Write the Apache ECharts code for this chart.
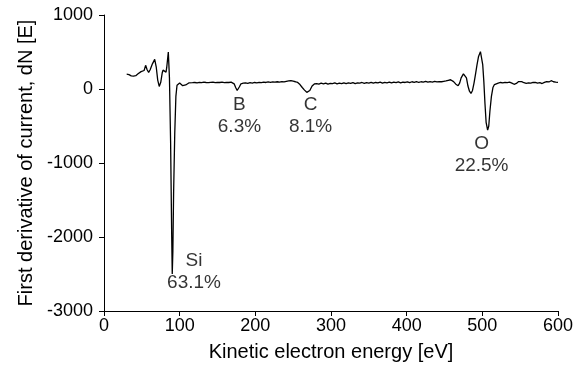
<!DOCTYPE html>
<html>
<head>
<meta charset="utf-8">
<script src="https://cdn.jsdelivr.net/npm/echarts@6/dist/echarts.min.js"></script>
<style>html,body{margin:0;padding:0;background:#fff}#c{width:582px;height:383px}</style>
</head>
<body>
<div id="c"></div>
<script>
var energy = [30,33,36,39,42,45,47,49,51,53,55,57,59,61,64,67,69,71,73,75,77,78,80,82,83,85,86.5,88,89.5,90.2,91,92,93.5,95,96.5,98,100,102,104,106,108,110,112,114,117,120,123,126,129,132,135,138,141,144,147,150,153,156,159,162,165,168,170,172,174,176,177.5,179,181,184,187,190,193,196,199,202,205,208,211,214,217,220,223,226,229,232,235,238,241,244,247,250,253,256,259,262,265,268,270,272,275,278,281,284,287,290,293,296,299,302,305,308,311,314,317,320,323,326,329,332,335,338,341,344,347,350,353,356,359,362,365,368,371,374,377,380,383,386,389,392,395,398,401,404,407,410,413,416,419,422,425,428,431,434,437,440,443,446,449,452,455,458,460,462,465,468,470,472,475,477,479,481,483,485,487,489,491,493,495,497.5,499,500.5,502,503.5,505,507,508.5,510,512,514,516,518,521,524,527,530,533,536,539,542,545,548,550,552,555,558,561,564,567,570,573,576,579,582,585,588,591,594,597,600];
var signal = [200,195,178,175,180,205,215,235,218,250,320,260,225,260,340,400,300,120,35,90,220,255,240,228,300,500,150,-700,-2000,-2500,-2200,-1400,-600,-100,50,75,80,65,45,38,55,70,82,78,85,88,82,90,86,92,88,85,90,94,86,90,88,93,87,90,88,92,85,70,20,-20,-15,30,70,78,82,76,85,80,88,84,90,86,92,88,95,90,96,92,98,94,100,96,104,110,112,105,98,88,60,20,-15,-45,-50,-20,40,68,74,66,78,70,80,66,76,72,82,70,80,74,84,72,82,76,86,74,84,78,88,76,86,80,90,78,88,82,92,80,90,84,94,82,92,86,96,84,94,88,96,86,98,90,100,88,98,92,102,92,100,94,104,96,100,98,104,110,118,125,120,100,65,45,80,150,205,210,150,40,-30,-60,-20,80,200,330,440,505,480,330,100,-200,-450,-555,-500,-300,-100,20,60,65,80,88,82,90,86,92,80,64,75,100,112,100,85,76,82,78,88,90,80,86,74,90,100,95,112,98,92,90];
var xTicks = [0,100,200,300,400,500,600];
var yTicks = [-3000,-2000,-1000,0,1000];
var peakNames = ['Si','B','C','O'];
var peakPercents = ['63.1%','6.3%','8.1%','22.5%'];
var peakLabelX = [119,179,273,499];
var peakLabelY = [-2470,-365,-365,-890];

var lineData = energy.map(function(e,i){return [e, signal[i]];});
var labelData = peakNames.map(function(n,i){return {value:[peakLabelX[i], peakLabelY[i]], name: n + '\n' + peakPercents[i]};});

var font = 'Liberation Sans, Arial, Helvetica, sans-serif';
var chart = echarts.init(document.getElementById('c'), null, {renderer:'canvas'});
chart.setOption({
  animation:false,
  backgroundColor:'#fff',
  grid:{left:104,right:24,top:15,bottom:72},
  xAxis:{
    type:'value', min:xTicks[0], max:xTicks[xTicks.length-1], interval:100,
    name:'Kinetic electron energy [eV]', nameLocation:'middle', nameGap:31,
    nameTextStyle:{color:'#000',fontSize:20,fontFamily:font},
    axisLine:{show:true,onZero:false,lineStyle:{color:'#000',width:1}},
    axisTick:{show:true,length:5,inside:false,lineStyle:{color:'#000'}},
    axisLabel:{color:'#000',fontSize:18,fontFamily:font,margin:6},
    splitLine:{show:false}
  },
  yAxis:{
    type:'value', min:yTicks[0], max:yTicks[yTicks.length-1], interval:1000,
    name:'First derivative of current, dN [E]', nameLocation:'middle', nameGap:66, nameRotate:90,
    nameTextStyle:{color:'#000',fontSize:20,fontFamily:font},
    axisLine:{show:true,onZero:false,lineStyle:{color:'#000',width:1}},
    axisTick:{show:true,length:5,inside:false,lineStyle:{color:'#000'}},
    axisLabel:{color:'#000',fontSize:18,fontFamily:font,margin:11,formatter:function(v){return String(v);}},
    splitLine:{show:false}
  },
  series:[
    {type:'line', data:lineData, showSymbol:false, symbol:'none',
     lineStyle:{color:'#000',width:1.3}, smooth:false, z:3},
    {type:'scatter', data:labelData, symbolSize:0, z:4,
     label:{show:true, position:'inside', formatter:function(p){return p.name;},
            color:'#000', fontSize:19, fontFamily:font, lineHeight:22, align:'center', verticalAlign:'middle'}}
  ]
});
</script>
</body>
</html>
